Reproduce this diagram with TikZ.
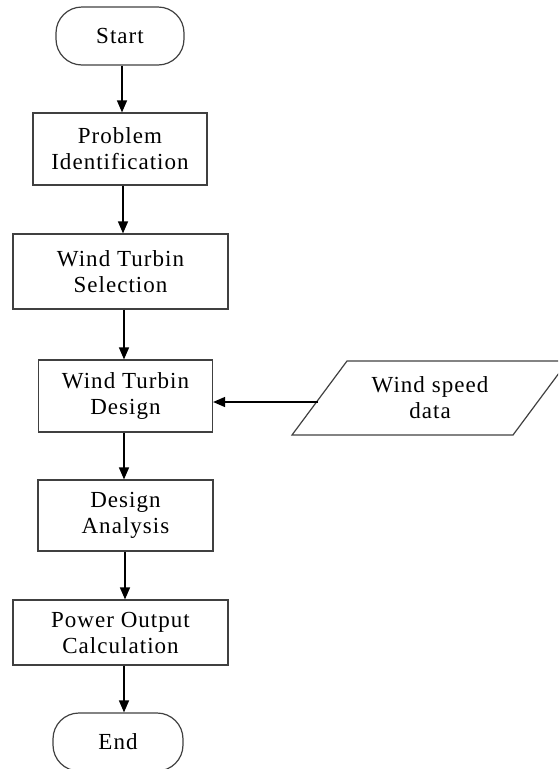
\documentclass[tikz,border=0pt]{standalone}
\usepackage{fontspec}
\setmainfont[LetterSpace=4.5]{Liberation Serif}
\usetikzlibrary{arrows.meta}
\begin{document}
\begin{tikzpicture}[x=1pt,y=-1pt,
  box/.style={draw=black!75, line width=1.2pt, align=center, inner sep=0pt,
    font=\fontsize{23}{26}\selectfont},
  term/.style={box, rounded corners=26pt},
  arr/.style={-{Triangle[length=12pt,width=10pt]}, line width=1.4pt, black}]
\useasboundingbox (0,0) rectangle (558,769);
\clip (0,0) rectangle (558,769);
\node[term, minimum width=128pt, minimum height=58pt] (start) at (120,36) {Start};
\node[box, minimum width=174pt, minimum height=72pt] (prob) at (120,149) {Problem\\Identification};
\node[box, minimum width=215pt, minimum height=75pt] (sel) at (120.5,271.5) {Wind Turbin\\Selection};
\node[box, minimum width=174pt, minimum height=72pt] (des) at (125.5,396) {Wind Turbin\\Design};
\node[box, minimum width=175pt, minimum height=71pt] (ana) at (125.5,515.5) {Design\\Analysis};
\node[box, minimum width=215pt, minimum height=65pt] (pow) at (120.5,632.5) {Power Output\\Calculation};
\node[term, minimum width=130pt, minimum height=58pt] (end) at (118,742) {End};
\draw[draw=black!75, line width=1.2pt] (347,361) -- (568,361) -- (513,435) -- (292,435) -- cycle;
\node[box, draw=none] (wsd) at (430,398) {Wind speed\\data};
\coordinate (wsdin) at (318,402);
\draw[arr] (start.south -| 122,0) -- (prob.north -| 122,0);
\draw[arr] (prob.south -| 123,0) -- (sel.north -| 123,0);
\draw[arr] (sel.south -| 124,0) -- (des.north -| 124,0);
\draw[arr] (des.south -| 124,0) -- (ana.north -| 124,0);
\draw[arr] (ana.south -| 125,0) -- (pow.north -| 125,0);
\draw[arr] (pow.south -| 124,0) -- (end.north -| 124,0);
\draw[arr] (wsdin) -- (des.east |- wsdin);
\end{tikzpicture}
\end{document}
